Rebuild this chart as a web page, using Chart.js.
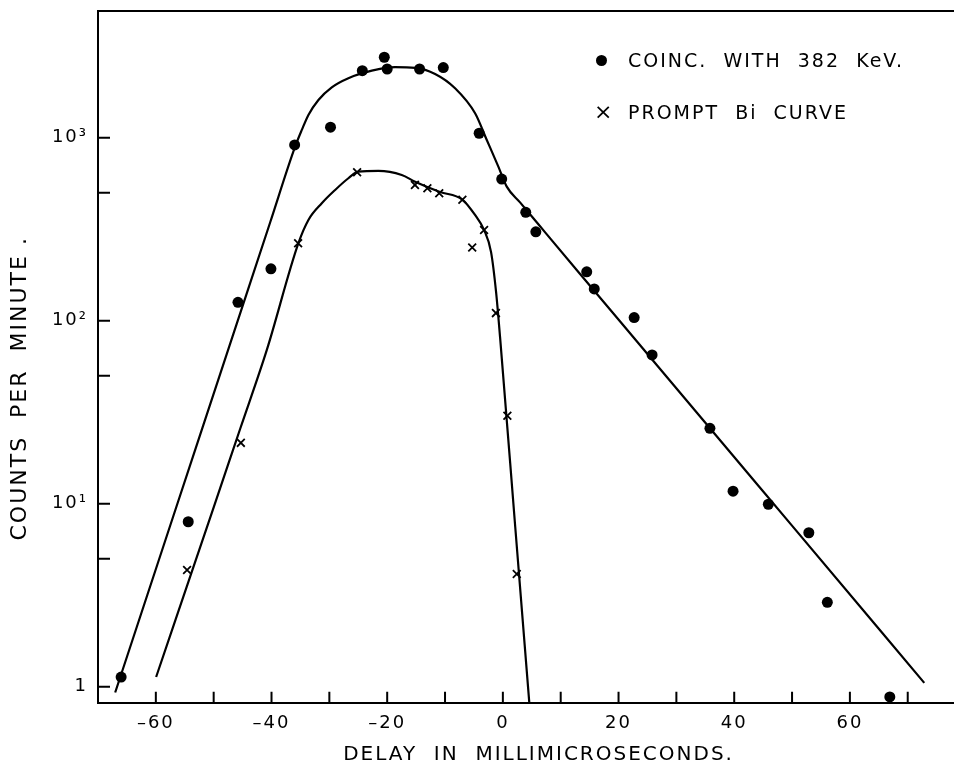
<!DOCTYPE html>
<html>
<head>
<meta charset="utf-8">
<script src="https://cdn.jsdelivr.net/npm/chart.js@4.4.1/dist/chart.umd.min.js"></script>
<style>
  html, body { margin: 0; background: #fff; overflow: hidden; }
  #wrap { position: relative; width: 954px; height: 769px; }
  canvas { display: block; }
  #legend { position: absolute; left: 590px; top: 0; font-family: 'DejaVu Sans'; font-size: 19px; letter-spacing: 2px; color: #000; }
  .row { position: absolute; left: 0; height: 32px; line-height: 32px; white-space: pre; }
  .dot { position: absolute; left: 6px; top: 10.5px; width: 11px; height: 11px; border-radius: 50%; background: #000; }
  .cross { position: absolute; left: 4px; top: 0; font-size: 22px; letter-spacing: 0; }
  .txt { position: absolute; left: 38px; top: 0; }
</style>
</head>
<body>
<div id="wrap">
  <canvas id="myChart" width="954" height="769"></canvas>
  <div id="legend"></div>
</div>
<script>
// axis range
const xMin = -70
const xMax = 78
const yMin = 0.818
const yMax = 4920

// measured points
const coincX = [-66.0, -54.4, -45.8, -40.1, -36.0, -29.8, -24.3, -20.5, -20.0, -14.4, -10.3, -4.1, -0.2, 3.96, 5.7, 14.5, 15.8, 22.7, 25.8, 35.8, 39.8, 45.9, 52.9, 56.1, 66.9]
const coincY = [1.13, 7.97, 126, 192, 912, 1140, 2323, 2750, 2372, 2372, 2415, 1057, 594, 391, 306, 185, 149, 104, 65, 25.8, 11.7, 9.93, 6.94, 2.89, 0.88]

const promptX = [-54.6, -45.3, -35.4, -25.2, -15.2, -13.05, -11.0, -7.0, -5.3, -3.25, -1.2, 0.78, 2.4]
const promptY = [4.34, 21.5, 265, 647, 552, 529, 497, 458, 251, 313, 110, 30.2, 4.13]

// hand-drawn curves
const coincFitX = [-67.03, -57.0, -47.73, -40.24, -35.92, -34.76, -33.62, -31.89, -29.58, -26.71, -22.66, -18.63, -15.18, -11.72, -8.26, -4.80, -2.78, -0.78, 0.67, 2.97, 6.43, 13.35, 25.15, 49.99, 72.86]
const coincFitY = [0.93, 8.51, 65.9, 344, 893, 1102, 1331, 1607, 1884, 2113, 2323, 2426, 2404, 2229, 1862, 1359, 971, 695, 540, 443, 328, 180, 65, 7.59, 1.05]

const promptFitX = [-59.95, -50.0, -45.43, -40.81, -35.35, -33.62, -31.31, -29.0, -26.71, -24.98, -21.52, -17.48, -15.18, -10.86, -7.0, -4.81, -3.25, -2.04, -1.18, -0.48, 2.14, 4.58]
const promptFitY = [1.13, 9.56, 25.6, 69.2, 265, 355, 438, 518, 600, 652, 658, 625, 575, 505, 459, 378, 313, 237, 144, 81, 7.46, 0.81]

const yTickValues = [1, 5, 10, 50, 100, 500, 1000]
const yTickLabels = ['1', '', '10¹', '', '10²', '', '10³']

const seriesNames = ['COINC.  WITH  382  KeV.', 'PROMPT  Bi  CURVE']
const xTitle = '   DELAY  IN  MILLIMICROSECONDS.'
const yTitle = 'COUNTS  PER  MINUTE .       '

const pts = (xs, ys) => xs.map((x, i) => ({x: x, y: ys[i]}))

Chart.defaults.font.family = "'DejaVu Sans', sans-serif"
Chart.defaults.color = '#000'

// ticks on the inside of the frame + top edge
const frameTicks = {
    id: 'frameTicks',
    beforeDraw(chart) {
        chart.ctx.letterSpacing = '2px'
    },
    afterDraw(chart) {
        const ctx = chart.ctx
        const a = chart.chartArea
        const xs = chart.scales.x
        const ys = chart.scales.y
        ctx.save()
        ctx.strokeStyle = '#000'
        ctx.lineWidth = 2
        ctx.beginPath()
        ctx.moveTo(a.left, a.top)
        ctx.lineTo(a.right, a.top)
        xs.ticks.forEach(t => {
            const p = xs.getPixelForValue(t.value)
            if (p > a.left + 2 && p < a.right - 2) {
                ctx.moveTo(p, a.bottom)
                ctx.lineTo(p, a.bottom - 11)
            }
        })
        ys.ticks.forEach(t => {
            const p = ys.getPixelForValue(t.value)
            ctx.moveTo(a.left, p)
            ctx.lineTo(a.left + 12, p)
        })
        ctx.stroke()
        ctx.restore()
    }
}

new Chart('myChart', {
    type: 'scatter',
    data: {
        datasets: [
            {
                label: seriesNames[0],
                data: pts(coincX, coincY),
                pointStyle: 'circle',
                pointRadius: 5.5,
                backgroundColor: '#000',
                borderColor: '#000',
                borderWidth: 0
            },
            {
                label: seriesNames[1],
                data: pts(promptX, promptY),
                pointStyle: 'crossRot',
                pointRadius: 5.5,
                borderColor: '#000',
                borderWidth: 1.8
            },
            {
                label: 'coinc curve',
                data: pts(coincFitX, coincFitY),
                showLine: true,
                pointRadius: 0,
                borderColor: '#000',
                borderWidth: 2.2,
                cubicInterpolationMode: 'monotone'
            },
            {
                label: 'prompt curve',
                data: pts(promptFitX, promptFitY),
                showLine: true,
                pointRadius: 0,
                borderColor: '#000',
                borderWidth: 2.2,
                cubicInterpolationMode: 'monotone'
            }
        ]
    },
    options: {
        responsive: false,
        animation: false,
        layout: {autoPadding: false, padding: {top: 11, right: 0, bottom: 0, left: 0}},
        plugins: {
            legend: {display: false},
            tooltip: {enabled: false}
        },
        scales: {
            x: {
                type: 'linear',
                min: xMin,
                max: xMax,
                afterFit(s) {
                    s.height = 66.3
                    s.paddingLeft = 0
                    s.paddingRight = 0
                },
                border: {display: true, color: '#000', width: 2},
                grid: {display: false, drawTicks: false},
                ticks: {
                    stepSize: 10,
                    includeBounds: false,
                    autoSkip: false,
                    maxRotation: 0,
                    padding: 10,
                    font: {size: 18},
                    callback: v => (v % 20 === 0 ? (v < 0 ? '–' + Math.abs(v) : String(v)) : '')
                },
                title: {display: true, text: xTitle, font: {size: 20}, padding: {top: 0, bottom: 2}}
            },
            y: {
                type: 'logarithmic',
                min: yMin,
                max: yMax,
                afterFit(s) {
                    s.width = 98
                    s.paddingTop = 0
                    s.paddingBottom = 0
                },
                afterBuildTicks(s) { s.ticks = yTickValues.map(v => ({value: v})) },
                border: {display: true, color: '#000', width: 2},
                grid: {display: false, drawTicks: false},
                ticks: {
                    autoSkip: false,
                    padding: 10,
                    font: {size: 18},
                    callback: v => {
                        const i = yTickValues.indexOf(v)
                        return i >= 0 ? yTickLabels[i] : ''
                    }
                },
                title: {display: true, text: yTitle, font: {size: 22}, padding: {top: 7, bottom: 0}}
            }
        }
    },
    plugins: [frameTicks]
})

// legend sits inside the plot, top right
const legendBox = document.getElementById('legend')
const legendRows = [60, 112]
seriesNames.forEach((name, i) => {
    const row = document.createElement('div')
    row.className = 'row'
    row.style.top = (legendRows[i] - 16) + 'px'
    const mark = document.createElement('span')
    if (i === 0) {
        mark.className = 'dot'
    } else {
        mark.className = 'cross'
        mark.textContent = '×'
    }
    const txt = document.createElement('span')
    txt.className = 'txt'
    txt.textContent = name
    row.appendChild(mark)
    row.appendChild(txt)
    legendBox.appendChild(row)
})
</script>
</body>
</html>
